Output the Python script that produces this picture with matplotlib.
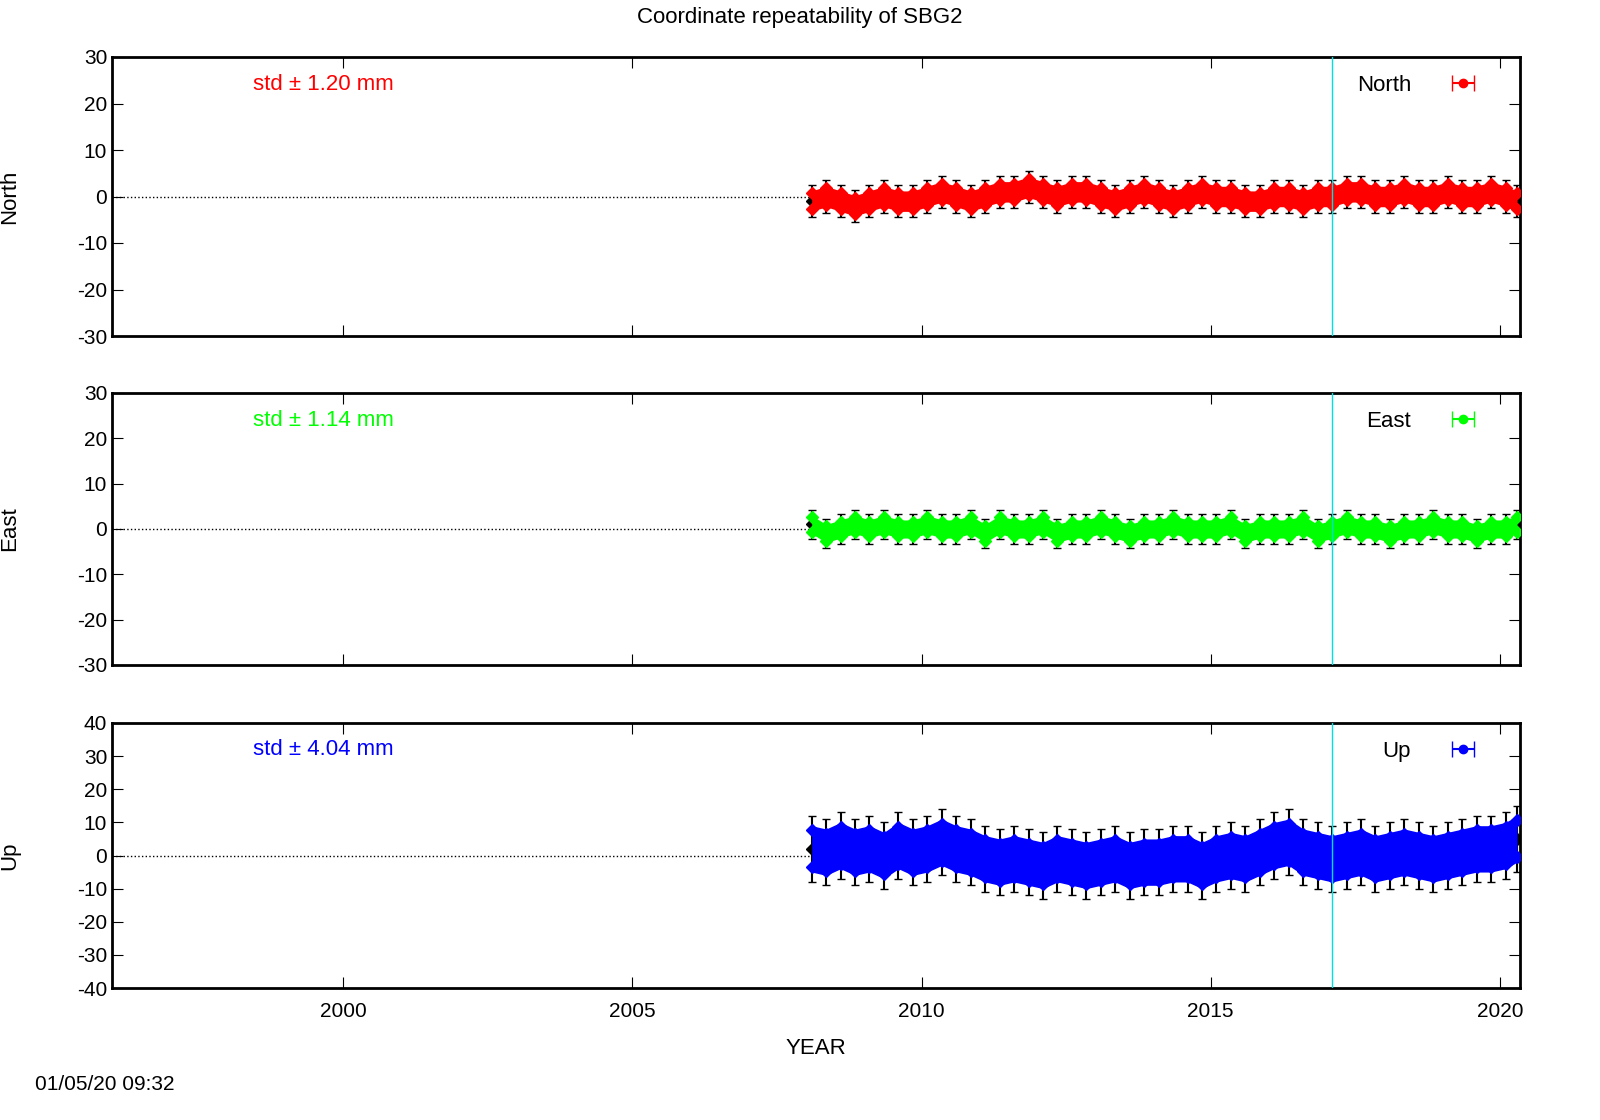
import matplotlib.pyplot as plt
import numpy as np

plt.rcParams.update({'font.family': 'Liberation Sans', 'font.size': 15,
                     'axes.unicode_minus': False})

# epochs (decimal years) and rough per-epoch values (mm)
years = [2008.10, 2008.35, 2008.60, 2008.85, 2009.10, 2009.35, 2009.60, 2009.85,
         2010.10, 2010.35, 2010.60, 2010.85, 2011.10, 2011.35, 2011.60, 2011.85,
         2012.10, 2012.35, 2012.60, 2012.85, 2013.10, 2013.35, 2013.60, 2013.85,
         2014.10, 2014.35, 2014.60, 2014.85, 2015.10, 2015.35, 2015.60, 2015.85,
         2016.10, 2016.35, 2016.60, 2016.85, 2017.10, 2017.35, 2017.60, 2017.85,
         2018.10, 2018.35, 2018.60, 2018.85, 2019.10, 2019.35, 2019.60, 2019.85,
         2020.10, 2020.30]

north = [-1, 0, -1, -2, -1, 0, -1, -1, 0, 1, 0, -1, 0, 1, 1, 2, 1, 0, 1, 1,
         0, -1, 0, 1, 0, -1, 0, 1, 0, 0, -1, -1, 0, 0, -1, 0, 0, 1, 1, 0,
         0, 1, 0, 0, 1, 0, 0, 1, 0, -1]
east = [1, -1, 0, 1, 0, 1, 0, 0, 1, 0, 0, 1, -1, 1, 0, 0, 1, -1, 0, 0,
        1, 0, -1, 0, 0, 1, 0, 0, 0, 1, -1, 0, 0, 0, 1, -1, 0, 1, 0, 0,
        -1, 0, 0, 1, 0, 0, -1, 0, 0, 1]
up = [2, 1, 3, 1, 2, 0, 3, 1, 2, 4, 2, 1, -1, -2, -1, -2, -3, -1, -2, -3,
      -2, -1, -3, -2, -2, -1, -1, -3, -1, 0, -1, 1, 3, 4, 1, 0, -1, 0, 1, -1,
      0, 1, 0, -1, 0, 1, 2, 2, 3, 5]

# approximate half-width of coloured band and of black error bars (mm)
spread = {'North': (2.2, 3.5), 'East': (2.0, 3.2), 'Up': (7.0, 10.0)}
std_text = {'North': 'std \u00b1 1.20 mm', 'East': 'std \u00b1 1.14 mm', 'Up': 'std \u00b1 4.04 mm'}

fig = plt.figure(figsize=(16, 11.2), dpi=100)
rects = [(112, 57, 336), (112, 393, 665), (112, 723, 988)]
panels = [('North', north, 'red', (-30, 30), 10),
          ('East', east, '#00ff00', (-30, 30), 10),
          ('Up', up, 'blue', (-40, 40), 10)]

for (x0, top, bot), (name, vals, col, ylim, step) in zip(rects, panels):
    ax = fig.add_axes([x0 / 1600, 1 - bot / 1120, (1520 - x0) / 1600, (bot - top) / 1120])
    y = np.array(vals, dtype=float)
    band, err = spread[name]
    ax.axhline(0, color='black', ls=':', lw=1, zorder=0)
    ax.errorbar(years, y, yerr=err, fmt='D', color='black', ms=6, lw=1.5, capsize=3, zorder=1)
    ax.fill_between(years, y - band, y + band, color=col, lw=0, zorder=2)
    ax.plot(years, y + band * 0.8, 'D', color=col, ms=6, zorder=3)
    ax.plot(years, y - band * 0.8, 'D', color=col, ms=6, zorder=3)
    ax.axvline(2017.1, color='#00e0e0', lw=1, zorder=4)
    ax.errorbar([np.nan], [np.nan], xerr=1, fmt='o', color=col, capsize=6, ms=6,
                lw=1.5, label=name)
    ax.legend(loc='upper right', frameon=False, markerfirst=False, handlelength=3.5,
              fontsize=16, borderaxespad=0.4, handletextpad=0.6)
    ax.text(0.1, 0.9, std_text[name], color=col, transform=ax.transAxes, fontsize=16,
            va='center')
    ax.set_xlim(1996.0, 2020.35)
    ax.set_ylim(*ylim)
    ax.set_yticks(np.arange(ylim[0], ylim[1] + 1, step))
    ax.set_xticks([2000, 2005, 2010, 2015, 2020])
    ax.tick_params(direction='in', top=True, right=True, length=8, labelsize=15)
    ax.set_ylabel(name, fontsize=16)
    ax.yaxis.set_label_coords(-0.065, 0.5)
    for s in ax.spines.values():
        s.set_linewidth(2)
    if name != 'Up':
        ax.set_xticklabels([])
    else:
        ax.set_xlabel('YEAR', fontsize=16, labelpad=12)
        ax.tick_params(axis='x', pad=10)

fig.text(0.5, 1 - 18 / 1120, 'Coordinate repeatability of SBG2', ha='center', va='center', fontsize=16)
fig.text(35 / 1600, 1 - 1085 / 1120, '01/05/20 09:32', ha='left', va='center', fontsize=15)

fig.savefig('out.png', dpi=100)
